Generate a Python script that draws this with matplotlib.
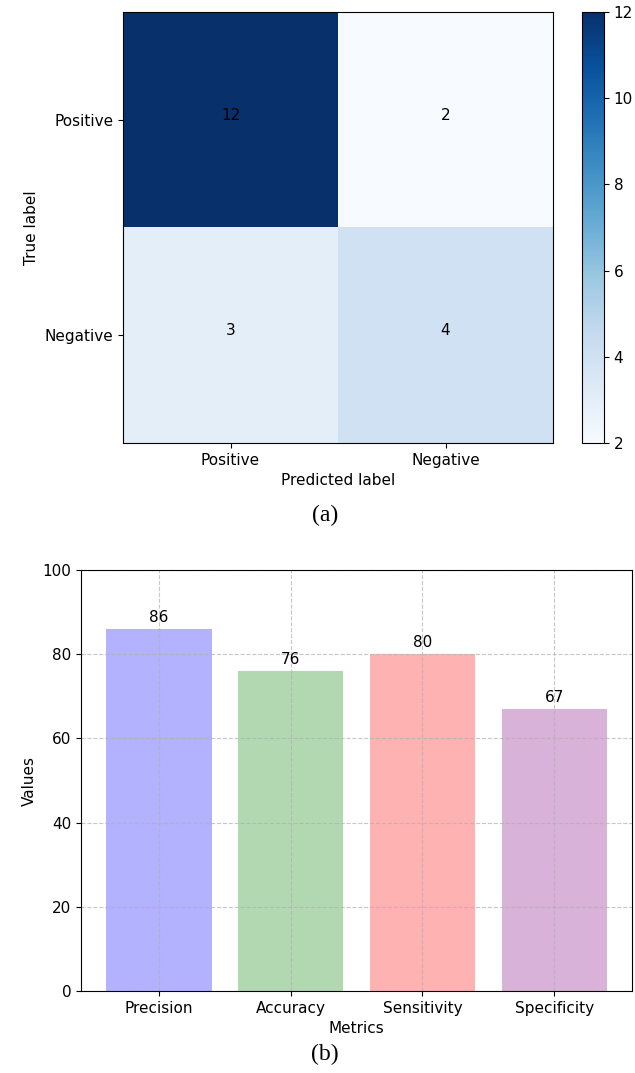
import numpy as np
import matplotlib
matplotlib.use("Agg")
import matplotlib.pyplot as plt

# confusion matrix data
class_names = ["Positive", "Negative"]
conf_matrix = [[12, 2],
               [3, 4]]

# metrics data
metric_names = ["Precision", "Accuracy", "Sensitivity", "Specificity"]
metric_values = [86, 76, 80, 67]
bar_colors = ["blue", "green", "red", "purple"]

plt.rcParams["font.size"] = 11

W, H = 635, 1073
fig = plt.figure(figsize=(W / 100, H / 100), dpi=100)

def box(l, t, r, b):
    return [l / W, 1 - b / H, (r - l) / W, (b - t) / H]

# (a) confusion matrix
ax1 = fig.add_axes(box(123, 12, 553, 443))
cm = np.array(conf_matrix)
im = ax1.imshow(cm, cmap="Blues", aspect="auto", interpolation="nearest")
cax = fig.add_axes(box(582, 12, 604, 443))
fig.colorbar(im, cax=cax)
ticks = np.arange(len(class_names))
ax1.set_xticks(ticks)
ax1.set_xticklabels(class_names)
ax1.set_yticks(ticks)
ax1.set_yticklabels(class_names)
for i in range(cm.shape[0]):
    for j in range(cm.shape[1]):
        ax1.text(j, i, str(cm[i, j]), ha="center", color="black")
ax1.set_xlabel("Predicted label")
ax1.set_ylabel("True label")
fig.text(325 / W, 1 - 515 / H, "(a)", ha="center", va="center",
         family="Liberation Serif", fontsize=17)

# (b) metrics bar chart
ax2 = fig.add_axes(box(81, 570, 632, 991))
x = np.arange(len(metric_names))
ax2.bar(x, metric_values, color=bar_colors, alpha=0.3)
for i, v in enumerate(metric_values):
    ax2.text(i, v + 1, str(v), ha="center", va="bottom")
ax2.set_xticks(x)
ax2.set_xticklabels(metric_names)
ax2.set_ylim(0, 100)
ax2.set_xlabel("Metrics")
ax2.set_ylabel("Values")
ax2.grid(True, linestyle="--", alpha=0.7)
fig.text(325 / W, 1 - 1054 / H, "(b)", ha="center", va="center",
         family="Liberation Serif", fontsize=17)

fig.savefig("out.png", dpi=100)
